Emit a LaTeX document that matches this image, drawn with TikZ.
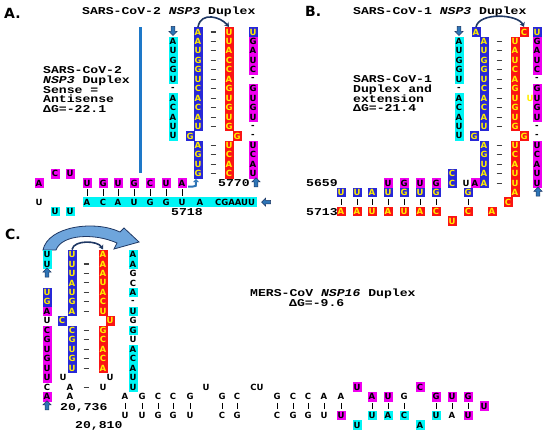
\documentclass[tikz,border=0pt]{standalone}
\usepackage{fontspec}
\usetikzlibrary{shapes.arrows,arrows.meta}
\newfontfamily\ntfam{DejaVu Sans}
\newfontfamily\lblfam{Liberation Mono}[FakeStretch=1.25]
\definecolor{ntblue}{RGB}{40,40,215}
\definecolor{ntred}{RGB}{250,20,20}
\definecolor{ntyel}{RGB}{255,240,0}
\definecolor{ntmag}{RGB}{240,0,240}
\definecolor{ntcyan}{RGB}{0,245,245}
\definecolor{navy}{RGB}{31,56,100}
\definecolor{arrfill}{RGB}{46,117,182}
\definecolor{vline}{RGB}{30,120,200}
\definecolor{bigfill}{RGB}{110,165,220}
\newcommand\stemcol[5]{\foreach \r/\s/\L/\dx in {#5}{\node[\s] (#1-\r) at ({#2+\dx},{#3+#4*\r}) {\L};}}
\newcommand\dashcol[4]{\foreach \r in {#4}{\draw[dsh] ({#1-2.5},{#2+#3*\r}) -- ({#1+2.5},{#2+#3*\r});}}
\newcommand\ntrow[3]{\foreach \x/\s/\L [count=\i] in {#3}{\node[\s] (#1-\i) at (\x,#2) {\L};}}
\newcommand\barrow[2]{\foreach \x in {#2}{\draw[barl] (\x,{#1-3.3}) -- (\x,{#1+3.3});}}
\begin{document}
\begin{tikzpicture}[x=1pt,y=-1pt,
 nt/.style={inner sep=0pt,minimum width=9pt,minimum height=9.6pt,font=\ntfam\bfseries\fontsize{8.5}{9}\selectfont},
 bb/.style={nt,fill=ntblue,text=ntyel},
 rb/.style={nt,fill=ntred,text=ntyel},
 mb/.style={nt,fill=ntmag,text=black},
 cb/.style={nt,fill=ntcyan,text=black},
 pl/.style={nt,text=black},
 yl/.style={nt,text=ntyel},
 lbl/.style={font=\lblfam\bfseries\fontsize{10.5}{9.7}\selectfont,inner sep=0pt,anchor=base west},
 pnl/.style={font=\ntfam\bfseries\fontsize{14}{14}\selectfont,inner sep=0pt,anchor=base west},
 dsh/.style={line width=1.1pt,draw=black!75},
 barl/.style={line width=0.9pt,draw=black},
 carr/.style={draw=navy,line width=1.6pt,-{Stealth[length=4.5pt,width=5.5pt]}},
 blk/.style={single arrow,fill=arrfill,draw=navy,line width=0.5pt,inner sep=1.6pt,minimum height=9pt,single arrow head extend=2.2pt},
 blku/.style={blk,shape border rotate=90},
 blkd/.style={blk,shape border rotate=270},
 blkl/.style={blk,shape border rotate=180}]
\useasboundingbox (0,0) rectangle (550,434);
\fill[white] (0,0) rectangle (550,434);
% ---------- Panel A ----------
\node[pnl] (pA) at (4,18) {A.};
\node[lbl] (tA) at (82,14.8) {SARS-CoV-2 {\itshape NSP3} Duplex};
\foreach \t [count=\i from 0] in {SARS-CoV-2,{{\itshape NSP3} Duplex},Sense =,Antisense,ΔG=-22.1}
  {\node[lbl] (la\i) at (43,{73.5+9.8*\i}) {\t};}
\draw[line width=3pt,vline] (140,27) -- (140,173);
\node[blkd] (Aar1) at (173,30) {};
\stemcol{ac}{173}{32}{9.45}{1/cb/A/0,2/cb/U/0,3/cb/G/0,4/cb/G/0,5/cb/U/0,6/pl/-/0,7/cb/A/0,8/cb/C/0,9/cb/A/0,10/cb/U/0,11/cb/U/0}
\stemcol{ab}{198}{32}{9.45}{0/bb/A/0,1/bb/A/0,2/bb/U/0,3/bb/G/0,4/bb/G/0,5/bb/U/0,6/bb/C/0,7/bb/A/0,8/bb/C/0,9/bb/A/0,10/bb/U/0,11/bb/G/-8,12/bb/A/0,13/bb/G/0,14/bb/U/0,15/bb/G/0}
\dashcol{213}{32}{9.45}{0,1,2,3,4,5,6,7,8,9,10,12,13,14,15}
\stemcol{ar}{229}{32}{9.45}{0/rb/U/0,1/rb/U/0,2/rb/A/0,3/rb/C/0,4/rb/C/0,5/rb/A/0,6/rb/G/0,7/rb/U/0,8/rb/G/0,9/rb/U/0,10/rb/G/0,11/rb/G/8,12/rb/U/0,13/rb/C/0,14/rb/A/0,15/rb/C/0}
\stemcol{am}{253}{32}{9.45}{0/bb/U/0,1/mb/G/0,2/mb/A/0,3/mb/U/0,4/mb/C/0,5/pl/-/0,6/mb/G/0,7/mb/U/0,8/mb/G/0,9/mb/U/0,10/pl/-/0,11/pl/-/0,12/mb/U/0,13/mb/C/0,14/mb/A/0,15/mb/U/0}
\draw[carr] (ab-0.north) .. controls +(3,-16) and +(-8,-10) .. (ar-0.north);
\ntrow{Aa}{173.75}{55/mb/C,70/mb/U}
\ntrow{Ab}{183.2}{39/mb/A,87/mb/U,103/mb/G,118/mb/U,134/mb/G,150/mb/C,166/mb/U,182/mb/A}
\draw[line width=2pt,arrfill,-{Triangle[length=3pt,width=5.5pt]}] (188,186.5) -- (193,186.5) .. controls (196,186.5) .. (196,179);
\node[lbl] (n5770) at (218,186.8) {5770};
\node[blku] (Aar2) at (256,183.2) {};
\barrow{192.65}{87,103,118,134,150,166,182}
\fill[ntcyan] (83,197.3) rectangle (257,206.9);
\ntrow{Ad}{202.1}{39/pl/U,87/pl/A,103/pl/C,118/pl/A,134/pl/U,150/pl/G,166/pl/G,182/pl/U,200/pl/A,235/pl/CGAAUU}
\node[blkl] (Aar3) at (267,202.1) {};
\ntrow{Ae}{211.55}{55/cb/U,70/cb/U}
\node[lbl] (n5718) at (171,215.4) {5718};
% ---------- Panel B ----------
\node[pnl] (pB) at (305,16) {B.};
\node[lbl] (tB) at (353,14.8) {SARS-CoV-1 {\itshape NSP3} Duplex};
\foreach \t [count=\i from 0] in {SARS-CoV-1,Duplex and,extension,ΔG=-21.4}
  {\node[lbl] (lb\i) at (353,{82.5+9.8*\i}) {\t};}
\node[blkd] (Bar1) at (459,30) {};
\stemcol{Bc}{459}{32}{9.45}{1/cb/A/0,2/cb/U/0,3/cb/G/0,4/cb/G/0,5/cb/U/0,6/pl/-/0,7/cb/A/0,8/cb/C/0,9/cb/A/0,10/cb/U/0,11/cb/U/0}
\stemcol{Bb}{484}{32}{9.45}{0/bb/A/-8,1/bb/A/0,2/bb/U/0,3/bb/G/0,4/bb/G/0,5/bb/U/0,6/bb/C/0,7/bb/A/0,8/bb/C/0,9/bb/A/0,10/bb/U/0,11/bb/G/-10,12/bb/A/0,13/bb/G/0,14/bb/U/0,15/bb/A/0,16/bb/A/0}
\dashcol{499}{32}{9.45}{1,2,3,4,5,6,7,8,9,10,12,13,14,15,16}
\stemcol{Br}{515}{32}{9.45}{0/rb/C/9,1/rb/U/0,2/rb/A/0,3/rb/U/0,4/rb/C/0,5/rb/A/0,6/rb/G/0,7/rb/U/0,8/rb/G/0,9/rb/U/0,10/rb/G/0,11/rb/G/9,12/rb/U/0,13/rb/C/0,14/rb/A/0,15/rb/U/0,16/rb/U/0,17/rb/A/0}
\stemcol{Bm}{537}{32}{9.45}{0/bb/U/0,1/mb/G/0,2/mb/A/0,3/mb/U/0,4/mb/C/0,5/pl/-/0,6/mb/G/0,7/mb/U/0,8/mb/G/0,9/mb/U/0,10/pl/-/0,11/pl/-/0,12/mb/U/0,13/mb/C/0,14/mb/A/0,15/mb/U/0,16/mb/U/0}
\node[yl] (Byu) at (530,98.15) {U};
\draw[carr] (Bb-0.north) .. controls +(3,-15) and +(-6,-13) .. (Br-0.north);
\ntrow{Ba}{173.75}{452/bb/C}
\node[lbl] (n5659) at (306,186.8) {5659};
\ntrow{Bd}{183.2}{388/mb/U,404/mb/G,420/mb/U,436/mb/G,452/bb/C,466/pl/U,475/mb/A}
\ntrow{Be}{192.65}{341/bb/U,357/bb/U,372/bb/A,388/bb/U,404/bb/G,420/bb/U,436/bb/G,468/bb/G}
\node[blku] (Bar2) at (538,192.65) {};
\barrow{202.1}{341,357,372,388,404,420,436,468}
\ntrow{Bf}{202.1}{508/rb/C}
\node[lbl] (n5713) at (306,215.4) {5713};
\ntrow{Bg}{211.55}{341/rb/A,357/rb/A,372/rb/U,388/rb/A,404/rb/U,420/rb/A,436/rb/C,468/rb/C,492/rb/A}
\ntrow{Bh}{221}{452/rb/U}
% ---------- Panel C ----------
\node[pnl] (pC) at (5,239) {C.};
\fill[bigfill,draw=navy,line width=0.8pt] (43,250) .. controls (48,226) and (95,220) .. (120,232) -- (124,228) -- (139,242) -- (114,249) -- (117,243) .. controls (95,233) and (62,234) .. (56,250) -- cycle;
\stemcol{Cl}{47}{254.5}{9.48}{0/cb/U/0,1/cb/U/0,4/bb/U/0,5/bb/G/0,6/mb/A/0,7/pl/U/0,8/mb/C/0,9/mb/G/0,10/mb/U/0,11/mb/G/0,12/mb/U/0,13/mb/U/0,14/pl/C/0,15/mb/A/0}
\node[blku] (Car1) at (47,273.46) {};
\node[blku] (Car2) at (47,406.18) {};
\stemcol{Cb}{72}{254.5}{9.48}{0/bb/U/0,1/bb/U/0,2/bb/U/0,3/bb/A/0,4/bb/U/0,5/bb/G/0,6/bb/A/0,7/bb/C/-10,8/bb/C/0,9/bb/G/0,10/bb/U/0,11/bb/G/0,12/bb/U/0,13/pl/U/-9,14/pl/A/-2,15/pl/A/-2}
\dashcol{86}{254.5}{9.48}{1,2,3,4,5,6,8,9,10,11,12,14}
\stemcol{Cr}{103}{254.5}{9.48}{0/rb/A/0,1/rb/A/0,2/rb/A/0,3/rb/U/0,4/rb/A/0,5/rb/C/0,6/rb/U/0,7/rb/U/7,8/rb/G/0,9/rb/C/0,10/rb/A/0,11/rb/C/0,12/rb/A/0,13/pl/U/7,14/pl/U/0}
\stemcol{Cc}{133}{254.5}{9.48}{0/cb/A/0,1/cb/A/0,2/pl/G/0,3/pl/C/0,4/cb/A/0,5/pl/-/0,6/cb/U/0,7/pl/G/0,8/cb/G/0,9/pl/U/0,10/cb/A/0,11/cb/C/0,12/cb/A/0,13/cb/U/0,14/cb/U/0}
\draw[carr] (Cb-0.north) .. controls +(2,-10) and +(-5,-9) .. (Cr-0.north);
\node[lbl] (mers1) at (250,296.8) {MERS-CoV {\itshape NSP16} Duplex};
\node[lbl] (mers2) at (289,306.8) {ΔG=-9.6};
\ntrow{Ct}{387.22}{206/pl/U,257/pl/CU,357/mb/U,420/mb/C}
\ntrow{Cu}{396.7}{125/pl/A,142/pl/G,158/pl/C,173/pl/C,190/pl/G,222/pl/G,237/pl/C,277/pl/G,293/pl/C,308/pl/C,324/pl/A,341/pl/A,372/mb/A,388/mb/U,404/pl/G,436/mb/G,452/mb/U,468/mb/G}
\barrow{406.18}{125,142,158,173,190,222,237,277,293,308,324,341,372,388,404,436,452,468}
\ntrow{Cv}{406.18}{484/mb/U}
\node[lbl] (n20736) at (60,410) {20,736};
\ntrow{Cw}{415.66}{125/pl/U,142/pl/U,158/pl/G,173/pl/G,190/pl/U,222/pl/C,237/pl/G,277/pl/C,293/pl/G,308/pl/G,324/pl/U,341/mb/U,372/cb/U,388/cb/A,404/cb/C,436/cb/U,452/pl/A,468/mb/U}
\ntrow{Cx}{425.14}{357/cb/U,420/cb/A}
\node[lbl] (n20810) at (75,428) {20,810};
\end{tikzpicture}
\end{document}
